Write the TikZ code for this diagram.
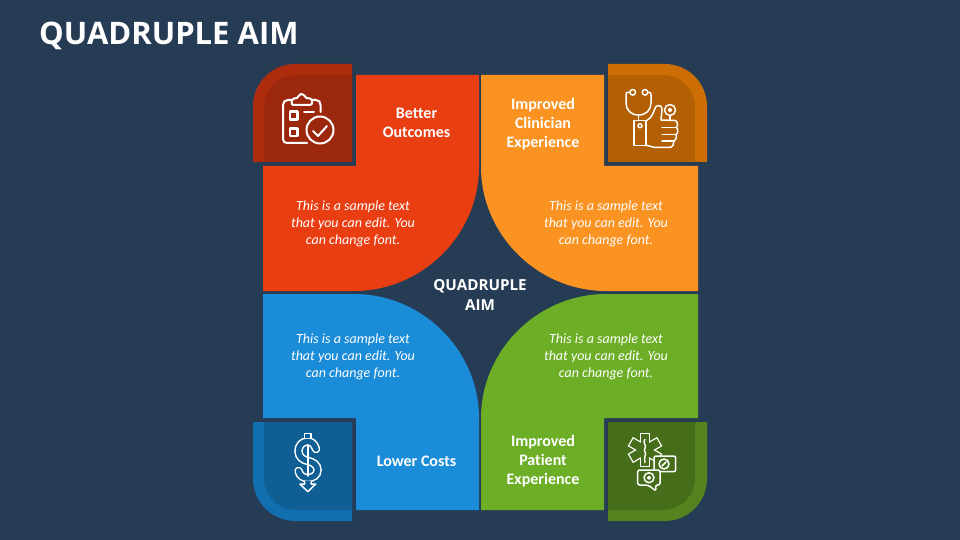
\documentclass[tikz,border=0pt]{standalone}
\usepackage{fontspec}
\setmainfont{Open Sans}
\newfontfamily\cfont[Ligatures=CommonOff]{Carlito}
\definecolor{bgc}{HTML}{263B54}
\definecolor{redc}{HTML}{E93D12}
\definecolor{redb}{HTML}{AE2C0E}
\definecolor{redi}{HTML}{9B270C}
\definecolor{orac}{HTML}{FB9322}
\definecolor{orab}{HTML}{CC6E04}
\definecolor{orai}{HTML}{B35F04}
\definecolor{bluc}{HTML}{1A8CD8}
\definecolor{blub}{HTML}{116FAF}
\definecolor{blui}{HTML}{0F5F94}
\definecolor{grec}{HTML}{6DAE27}
\definecolor{greb}{HTML}{55831F}
\definecolor{grei}{HTML}{466D19}
\tikzset{
  headtxt/.style={text=white,align=center,font=\cfont\bfseries\fontsize{16}{19}\selectfont,inner sep=0pt},
  bodytxt/.style={text=white,align=center,font=\cfont\itshape\fontsize{14}{17}\selectfont,inner sep=0pt},
  icona/.style={draw=white,line width=2pt,line cap=round,line join=round},
  iconb/.style={draw=white,line width=1.5pt,line cap=round,line join=round},
}
\begin{document}
\begin{tikzpicture}[x=1pt,y=-1pt]
\useasboundingbox (0,0) rectangle (960,540);
\fill[bgc] (0,0) rectangle (960,540);
% quadrants
\fill[redc] (356,75)--(479,75)--(479,167) .. controls (479,234.5) and (422.5,291) .. (354,291)--(263,291)--(263,166)--(356,166)--cycle;
\fill[orac] (481,75)--(604,75)--(604,166)--(698,166)--(698,291)--(606,291) .. controls (537.5,291) and (481,234.5) .. (481,167)--cycle;
\fill[bluc] (479,510)--(356,510)--(356,418)--(263,418)--(263,294)--(354,294) .. controls (422.5,294) and (479,350.5) .. (479,418)--cycle;
\fill[grec] (481,510)--(604,510)--(604,418)--(698,418)--(698,294)--(606,294) .. controls (537.5,294) and (481,350.5) .. (481,418)--cycle;
% corner tiles
\fill[redb] (352,64)--(295,64) .. controls (272,64) and (253,83) .. (253,106)--(253,162)--(352,162)--cycle;
\fill[redi] (352,75)--(296,75) .. controls (278.3,75) and (264,89.3) .. (264,107)--(264,162)--(352,162)--cycle;
\fill[orab] (608,64)--(665,64) .. controls (688,64) and (707,83) .. (707,106)--(707,162)--(608,162)--cycle;
\fill[orai] (608,75)--(663,75) .. controls (680.7,75) and (695,89.3) .. (695,107)--(695,162)--(608,162)--cycle;
\fill[blub] (352,521)--(295,521) .. controls (272,521) and (253,502) .. (253,479)--(253,422)--(352,422)--cycle;
\fill[blui] (352,510)--(296,510) .. controls (278.3,510) and (264,495.7) .. (264,478)--(264,422)--(352,422)--cycle;
\fill[greb] (608,521)--(665,521) .. controls (688,521) and (707,502) .. (707,479)--(707,422)--(608,422)--cycle;
\fill[grei] (608,510)--(663,510) .. controls (680.7,510) and (695,495.7) .. (695,478)--(695,422)--(608,422)--cycle;
% clipboard icon
\draw[icona] (307,143)--(287,143) .. controls (284.5,143) and (283,141.5) .. (283,139)--(283,105) .. controls (283,102) and (285,100) .. (288,100)--(292,100);
\draw[icona] (312,100)--(316,100) .. controls (319,100) and (320.5,102) .. (320.5,105)--(320.5,112);
\draw[icona] (293,105)--(310,105) .. controls (313,105) and (313,99) .. (310,98.5)--(306.5,98) .. controls (304,95) and (302,93.5) .. (301,94) .. controls (300,94.5) and (298.5,96) .. (297,98)--(294,98.5) .. controls (291,99) and (291,105) .. (293,105)--cycle;
\draw[icona,line width=2.4pt] (290,111.5) rectangle (297.5,119.5);
\draw[icona,line width=2.4pt] (290,128.5) rectangle (297.5,136);
\draw[icona] (304,112.5)--(314,112.5);
\draw[icona] (320,130) circle [radius=13.5];
\draw[icona] (313,131)--(318,136)--(327,126);
% stethoscope-thumb icon
\draw[iconb] (632.7,92.3) circle [radius=2.8];
\draw[iconb] (645,92.3) circle [radius=2.8];
\draw[iconb] (629.9,92.3)--(628,92.3) .. controls (626.5,92.3) and (626,93) .. (626,95)--(626,103) .. controls (626,110) and (631,115) .. (638.5,115) .. controls (646,115) and (651,110) .. (651,103)--(651,95) .. controls (651,93) and (650.5,92.3) .. (649,92.3)--(647.8,92.3);
\draw[iconb] (638.5,115)--(638.5,120.5);
\draw[iconb] (634,120.5) rectangle (646,145.5);
\draw[iconb] (640,125.7) circle [radius=2];
\draw[iconb] (646,121)--(650,118) .. controls (653,115) and (654,110) .. (656,106.5) .. controls (659,104.5) and (662,106) .. (662,109) .. controls (662,113) and (661,117) .. (661,120)--(675,120.5) .. controls (678,121) and (678,126) .. (676.5,127.5) .. controls (678.5,129) and (678,134) .. (676,134.5) .. controls (677,136) and (676,140) .. (674,141) .. controls (674,144) and (673,147.5) .. (669,147.5)--(655,147.5) .. controls (652,147.5) and (650,145.5) .. (646,145.5);
\draw[iconb] (662,127.5)--(676.5,127.5);
\draw[iconb] (662,134.5)--(676,134.5);
\draw[iconb] (662,141)--(674,141);
\draw[iconb] (670,110) circle [radius=5.5];
\draw[iconb] (670,110) circle [radius=1.6];
\draw[iconb] (670,115.5)--(670,120.5);
% dollar icon
\draw[line width=8.5pt,white,line cap=round] (316,449) .. controls (314,443) and (311,441.5) .. (307.5,441.5) .. controls (302,441.5) and (298.5,446) .. (298.5,451) .. controls (298.5,457) and (303,460) .. (308,461) .. controls (313,462) and (317.5,465) .. (317.5,470) .. controls (317.5,475) and (313,478) .. (308,478) .. controls (303,478) and (300,476) .. (298.5,471);
\draw[line width=5.5pt,blui,line cap=round] (316,449) .. controls (314,443) and (311,441.5) .. (307.5,441.5) .. controls (302,441.5) and (298.5,446) .. (298.5,451) .. controls (298.5,457) and (303,460) .. (308,461) .. controls (313,462) and (317.5,465) .. (317.5,470) .. controls (317.5,475) and (313,478) .. (308,478) .. controls (303,478) and (300,476) .. (298.5,471);
\draw[iconb,fill=blui] (304.5,438)--(304.5,433.5)--(311,433.5)--(311,438);
\draw[iconb] (307.8,445)--(307.8,476);
\fill[blui] (304.7,481)--(310.9,481)--(310.9,485)--(304.7,485)--cycle;
\draw[iconb] (304.5,482)--(304.5,484)--(300,484)--(307.8,491.7)--(315.7,484)--(311,484)--(311,482);
% star-of-life and bubbles icon
\begin{scope}[shift={(645,450)}]
\foreach \a in {0,60,120}{\draw[white,line width=10.6pt,rotate=\a] (0,-17)--(0,17);}
\foreach \a in {0,60,120}{\draw[grei,line width=8pt,rotate=\a] (0,-15.7)--(0,15.7);}
\draw[white,line width=1.4pt] (0,-11) .. controls (-3,-7) and (2,-5) .. (0,-2) .. controls (-2,1) and (2,3) .. (0,6) .. controls (-1,8) and (0,10) .. (0,13);
\end{scope}
\draw[iconb,fill=grei,rounded corners=2pt] (654,456) rectangle (675.7,471.7);
\draw[iconb] (664,464) circle [radius=5];
\draw[iconb] (662,466)--(666,462);
\draw[iconb,fill=grei,rounded corners=2pt] (637.7,470)--(660,470)--(660,485)--(655.5,485)--(656,491)--(648,485)--(637.7,485)--cycle;
\draw[iconb] (649,477.7) circle [radius=5];
\draw[iconb,fill=white] (649,477.7) circle [radius=1.3];
% texts
\node[text=white,font=\bfseries\fontsize{31}{36}\selectfont,inner sep=0pt,anchor=west] (title) at (39,35.5) {QUADRUPLE AIM};
\node[text=white,align=center,font=\bfseries\fontsize{15.2}{20}\selectfont,inner sep=0pt] (center) at (480,294.5) {QUADRUPLE\\AIM};
\node[headtxt] (h1) at (416.5,122.5) {Better\\Outcomes};
\node[headtxt] (h2) at (543,123.8) {Improved\\Clinician\\Experience};
\node[headtxt] (h3) at (416.5,461) {Lower Costs};
\node[headtxt] (h4) at (543,460.8) {Improved\\Patient\\Experience};
\node[bodytxt] (b1) at (353,224) {This is a sample text\\that you can edit. You\\can change font.};
\node[bodytxt] (b2) at (606,224) {This is a sample text\\that you can edit. You\\can change font.};
\node[bodytxt] (b3) at (353,357) {This is a sample text\\that you can edit. You\\can change font.};
\node[bodytxt] (b4) at (606,357) {This is a sample text\\that you can edit. You\\can change font.};
\end{tikzpicture}
\end{document}
